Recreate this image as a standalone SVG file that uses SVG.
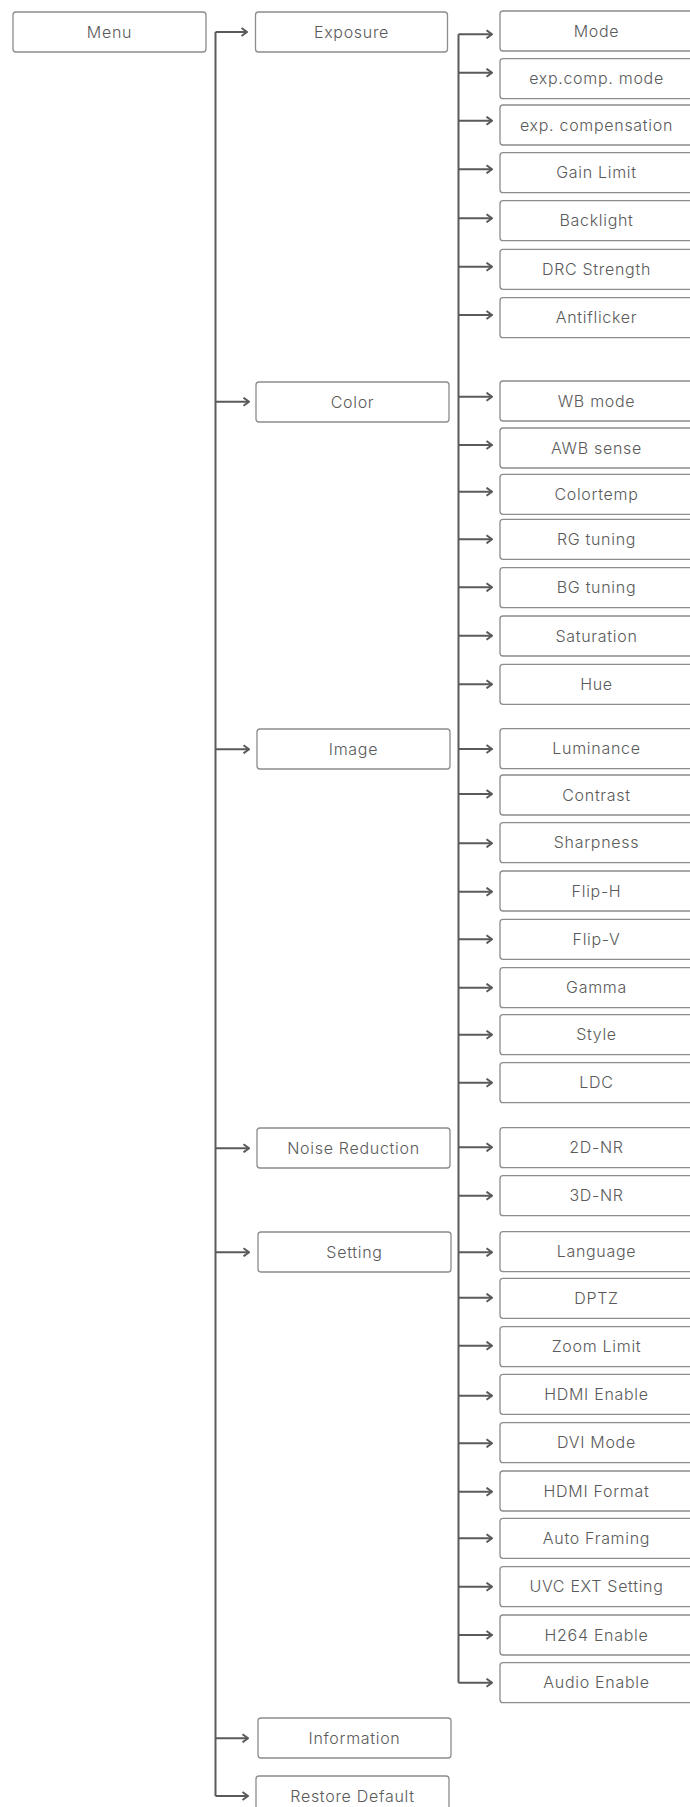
<svg xmlns="http://www.w3.org/2000/svg" width="690" height="1807" viewBox="0 0 690 1807">
<style>
.box{fill:#fff;stroke:#8c8c8c;stroke-width:1.3}
.t{font-family:Inter,"Noto Sans",sans-serif;font-weight:300;font-size:16px;letter-spacing:0.7px;fill:#5a5a5a;text-anchor:middle}
.c{fill:none;stroke:#5a5a5a;stroke-width:2}
</style>
<defs>
<marker id="ah" viewBox="0 0 10 10" refX="9" refY="5" markerWidth="10" markerHeight="10" markerUnits="userSpaceOnUse" orient="auto">
<path d="M3.5,1 L9,5 L3.5,9" fill="none" stroke="#5a5a5a" stroke-width="2"/>
</marker>
</defs>
<rect width="690" height="1807" fill="#fff"/>
<g id="connectors">
<path class="c" d="M215.5,32 V1796"/>
<path class="c" d="M215.5,32 H247" marker-end="url(#ah)"/>
<path class="c" d="M215.5,401.7 H249" marker-end="url(#ah)"/>
<path class="c" d="M215.5,749.3 H249" marker-end="url(#ah)"/>
<path class="c" d="M215.5,1148.3 H249" marker-end="url(#ah)"/>
<path class="c" d="M215.5,1252.3 H249" marker-end="url(#ah)"/>
<path class="c" d="M215.5,1738.3 H248" marker-end="url(#ah)"/>
<path class="c" d="M215.5,1796 H248" marker-end="url(#ah)"/>
<path class="c" d="M458.5,34.3 V1682.7"/>
<path class="c" d="M458.5,34.3 H492" marker-end="url(#ah)"/>
<path class="c" d="M458.5,72.7 H492" marker-end="url(#ah)"/>
<path class="c" d="M458.5,120.7 H492" marker-end="url(#ah)"/>
<path class="c" d="M458.5,169.3 H492" marker-end="url(#ah)"/>
<path class="c" d="M458.5,218.3 H492" marker-end="url(#ah)"/>
<path class="c" d="M458.5,266.7 H492" marker-end="url(#ah)"/>
<path class="c" d="M458.5,315 H492" marker-end="url(#ah)"/>
<path class="c" d="M458.5,396.7 H492" marker-end="url(#ah)"/>
<path class="c" d="M458.5,445 H492" marker-end="url(#ah)"/>
<path class="c" d="M458.5,491.7 H492" marker-end="url(#ah)"/>
<path class="c" d="M458.5,539.3 H492" marker-end="url(#ah)"/>
<path class="c" d="M458.5,587.3 H492" marker-end="url(#ah)"/>
<path class="c" d="M458.5,635.7 H492" marker-end="url(#ah)"/>
<path class="c" d="M458.5,684.3 H492" marker-end="url(#ah)"/>
<path class="c" d="M458.5,749 H492" marker-end="url(#ah)"/>
<path class="c" d="M458.5,794 H492" marker-end="url(#ah)"/>
<path class="c" d="M458.5,843.3 H492" marker-end="url(#ah)"/>
<path class="c" d="M458.5,891.7 H492" marker-end="url(#ah)"/>
<path class="c" d="M458.5,939.3 H492" marker-end="url(#ah)"/>
<path class="c" d="M458.5,987.7 H492" marker-end="url(#ah)"/>
<path class="c" d="M458.5,1034.7 H492" marker-end="url(#ah)"/>
<path class="c" d="M458.5,1082.7 H492" marker-end="url(#ah)"/>
<path class="c" d="M458.5,1147.3 H492" marker-end="url(#ah)"/>
<path class="c" d="M458.5,1195.7 H492" marker-end="url(#ah)"/>
<path class="c" d="M458.5,1252.3 H492" marker-end="url(#ah)"/>
<path class="c" d="M458.5,1297.7 H492" marker-end="url(#ah)"/>
<path class="c" d="M458.5,1345.7 H492" marker-end="url(#ah)"/>
<path class="c" d="M458.5,1395.7 H492" marker-end="url(#ah)"/>
<path class="c" d="M458.5,1443.3 H492" marker-end="url(#ah)"/>
<path class="c" d="M458.5,1491.7 H492" marker-end="url(#ah)"/>
<path class="c" d="M458.5,1538.3 H492" marker-end="url(#ah)"/>
<path class="c" d="M458.5,1586.7 H492" marker-end="url(#ah)"/>
<path class="c" d="M458.5,1635 H492" marker-end="url(#ah)"/>
<path class="c" d="M458.5,1682.7 H492" marker-end="url(#ah)"/>
</g>
<g id="menu"><rect class="box" x="13" y="12" width="193" height="40" rx="3"/><text class="t" x="109.5" y="37.5">Menu</text></g>
<g id="exposure"><rect class="box" x="255.5" y="12" width="192" height="40" rx="3"/><text class="t" x="351.5" y="37.5">Exposure</text></g>
<g id="color"><rect class="box" x="256" y="382" width="193" height="40" rx="3"/><text class="t" x="352.5" y="407.5">Color</text></g>
<g id="image"><rect class="box" x="257" y="729" width="193" height="40" rx="3"/><text class="t" x="353.5" y="754.5">Image</text></g>
<g id="noise-reduction"><rect class="box" x="257" y="1128" width="193" height="40" rx="3"/><text class="t" x="353.5" y="1153.5">Noise Reduction</text></g>
<g id="setting"><rect class="box" x="258" y="1232" width="193" height="40" rx="3"/><text class="t" x="354.5" y="1257.5">Setting</text></g>
<g id="information"><rect class="box" x="258" y="1718" width="193" height="40" rx="3"/><text class="t" x="354.5" y="1743.5">Information</text></g>
<g id="restore-default"><rect class="box" x="256" y="1776" width="193" height="40" rx="3"/><text class="t" x="352.5" y="1801.5">Restore Default</text></g>
<g id="mode"><rect class="box" x="500" y="11" width="193" height="40" rx="3"/><text class="t" x="596.5" y="36.5">Mode</text></g>
<g id="exp-comp-mode"><rect class="box" x="500" y="58.7" width="193" height="40" rx="3"/><text class="t" x="596.5" y="84.2">exp.comp. mode</text></g>
<g id="exp-compensation"><rect class="box" x="500" y="105" width="193" height="40" rx="3"/><text class="t" x="596.5" y="130.5">exp. compensation</text></g>
<g id="gain-limit"><rect class="box" x="500" y="152.7" width="193" height="40" rx="3"/><text class="t" x="596.5" y="178.2">Gain Limit</text></g>
<g id="backlight"><rect class="box" x="500" y="200.7" width="193" height="40" rx="3"/><text class="t" x="596.5" y="226.2">Backlight</text></g>
<g id="drc-strength"><rect class="box" x="500" y="249.3" width="193" height="40" rx="3"/><text class="t" x="596.5" y="274.8">DRC Strength</text></g>
<g id="antiflicker"><rect class="box" x="500" y="297.7" width="193" height="40" rx="3"/><text class="t" x="596.5" y="323.2">Antiflicker</text></g>
<g id="wb-mode"><rect class="box" x="500" y="381" width="193" height="40" rx="3"/><text class="t" x="596.5" y="406.5">WB mode</text></g>
<g id="awb-sense"><rect class="box" x="500" y="428" width="193" height="40" rx="3"/><text class="t" x="596.5" y="453.5">AWB sense</text></g>
<g id="colortemp"><rect class="box" x="500" y="474.3" width="193" height="40" rx="3"/><text class="t" x="596.5" y="499.8">Colortemp</text></g>
<g id="rg-tuning"><rect class="box" x="500" y="519.3" width="193" height="40" rx="3"/><text class="t" x="596.5" y="544.8">RG tuning</text></g>
<g id="bg-tuning"><rect class="box" x="500" y="567.7" width="193" height="40" rx="3"/><text class="t" x="596.5" y="593.2">BG tuning</text></g>
<g id="saturation"><rect class="box" x="500" y="616" width="193" height="40" rx="3"/><text class="t" x="596.5" y="641.5">Saturation</text></g>
<g id="hue"><rect class="box" x="500" y="664.3" width="193" height="40" rx="3"/><text class="t" x="596.5" y="689.8">Hue</text></g>
<g id="luminance"><rect class="box" x="500" y="728.7" width="193" height="40" rx="3"/><text class="t" x="596.5" y="754.2">Luminance</text></g>
<g id="contrast"><rect class="box" x="500" y="775" width="193" height="40" rx="3"/><text class="t" x="596.5" y="800.5">Contrast</text></g>
<g id="sharpness"><rect class="box" x="500" y="822.7" width="193" height="40" rx="3"/><text class="t" x="596.5" y="848.2">Sharpness</text></g>
<g id="flip-h"><rect class="box" x="500" y="871" width="193" height="40" rx="3"/><text class="t" x="596.5" y="896.5">Flip-H</text></g>
<g id="flip-v"><rect class="box" x="500" y="919.3" width="193" height="40" rx="3"/><text class="t" x="596.5" y="944.8">Flip-V</text></g>
<g id="gamma"><rect class="box" x="500" y="967.7" width="193" height="40" rx="3"/><text class="t" x="596.5" y="993.2">Gamma</text></g>
<g id="style"><rect class="box" x="500" y="1014.7" width="193" height="40" rx="3"/><text class="t" x="596.5" y="1040.2">Style</text></g>
<g id="ldc"><rect class="box" x="500" y="1062.7" width="193" height="40" rx="3"/><text class="t" x="596.5" y="1088.2">LDC</text></g>
<g id="nr-2d"><rect class="box" x="500" y="1127.7" width="193" height="40" rx="3"/><text class="t" x="596.5" y="1153.2">2D-NR</text></g>
<g id="nr-3d"><rect class="box" x="500" y="1175.7" width="193" height="40" rx="3"/><text class="t" x="596.5" y="1201.2">3D-NR</text></g>
<g id="language"><rect class="box" x="500" y="1231.7" width="193" height="40" rx="3"/><text class="t" x="596.5" y="1257.2">Language</text></g>
<g id="dptz"><rect class="box" x="500" y="1278.3" width="193" height="40" rx="3"/><text class="t" x="596.5" y="1303.8">DPTZ</text></g>
<g id="zoom-limit"><rect class="box" x="500" y="1326.7" width="193" height="40" rx="3"/><text class="t" x="596.5" y="1352.2">Zoom Limit</text></g>
<g id="hdmi-enable"><rect class="box" x="500" y="1374.3" width="193" height="40" rx="3"/><text class="t" x="596.5" y="1399.8">HDMI Enable</text></g>
<g id="dvi-mode"><rect class="box" x="500" y="1422.7" width="193" height="40" rx="3"/><text class="t" x="596.5" y="1448.2">DVI Mode</text></g>
<g id="hdmi-format"><rect class="box" x="500" y="1471" width="193" height="40" rx="3"/><text class="t" x="596.5" y="1496.5">HDMI Format</text></g>
<g id="auto-framing"><rect class="box" x="500" y="1518.3" width="193" height="40" rx="3"/><text class="t" x="596.5" y="1543.8">Auto Framing</text></g>
<g id="uvc-ext-setting"><rect class="box" x="500" y="1566.7" width="193" height="40" rx="3"/><text class="t" x="596.5" y="1592.2">UVC EXT Setting</text></g>
<g id="h264-enable"><rect class="box" x="500" y="1615" width="193" height="40" rx="3"/><text class="t" x="596.5" y="1640.5">H264 Enable</text></g>
<g id="audio-enable"><rect class="box" x="500" y="1662.7" width="193" height="40" rx="3"/><text class="t" x="596.5" y="1688.2">Audio Enable</text></g>
</svg>
